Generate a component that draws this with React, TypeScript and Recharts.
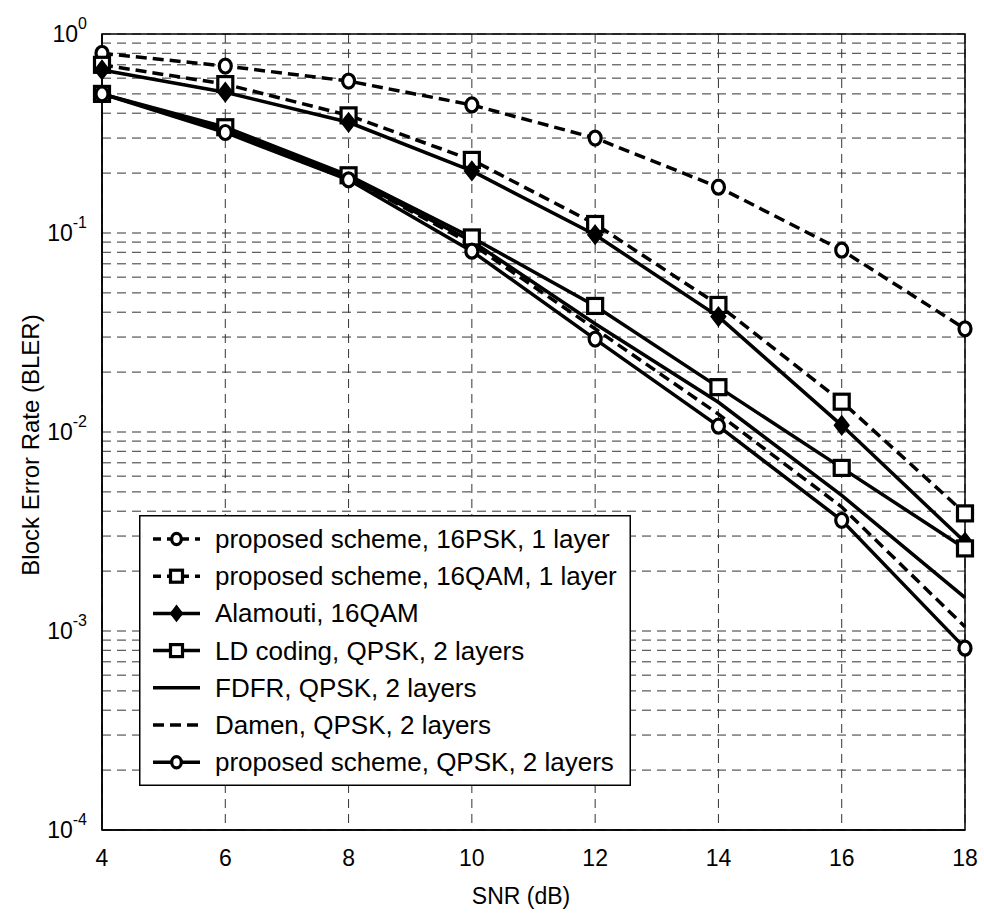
import React from 'react';
import { LineChart, Line, XAxis, YAxis, CartesianGrid, Legend, ReferenceArea } from 'recharts';

const snr = [4, 6, 8, 10, 12, 14, 16, 18];
const proposed16PSK1Layer = [0.8, 0.69, 0.58, 0.44, 0.3, 0.17, 0.082, 0.033];
const proposed16QAM1Layer = [0.7, 0.56, 0.39, 0.233, 0.111, 0.0435, 0.0142, 0.0039];
const alamouti16QAM = [0.66, 0.51, 0.36, 0.205, 0.098, 0.038, 0.0108, 0.0028];
const ldCodingQPSK = [0.5, 0.34, 0.195, 0.095, 0.043, 0.0168, 0.0066, 0.0026];
const fdfrQPSK = [0.5, 0.33, 0.19, 0.091, 0.035, 0.0141, 0.0048, 0.00147];
const damenQPSK = [0.5, 0.33, 0.19, 0.088, 0.033, 0.0123, 0.0042, 0.00105];
const proposedQPSK2Layers = [0.5, 0.32, 0.185, 0.081, 0.0293, 0.0107, 0.0036, 0.00082];

const xTicks = [4, 6, 8, 10, 12, 14, 16, 18];
const yTicks = [
  0.0001, 0.0002, 0.0003, 0.0004, 0.0005, 0.0006, 0.0007, 0.0008, 0.0009,
  0.001, 0.002, 0.003, 0.004, 0.005, 0.006, 0.007, 0.008, 0.009,
  0.01, 0.02, 0.03, 0.04, 0.05, 0.06, 0.07, 0.08, 0.09,
  0.1, 0.2, 0.3, 0.4, 0.5, 0.6, 0.7, 0.8, 0.9, 1,
];
const xLabel = 'SNR (dB)';
const yLabel = 'Block Error Rate (BLER)';

type Marker = 'circle' | 'square' | 'diamond' | 'none';
const series: { key: string; name: string; values: number[]; dashed: boolean; marker: Marker }[] = [
  { key: 'psk1', name: 'proposed scheme, 16PSK, 1 layer', values: proposed16PSK1Layer, dashed: true, marker: 'circle' },
  { key: 'qam1', name: 'proposed scheme, 16QAM, 1 layer', values: proposed16QAM1Layer, dashed: true, marker: 'square' },
  { key: 'alam', name: 'Alamouti, 16QAM', values: alamouti16QAM, dashed: false, marker: 'diamond' },
  { key: 'ld', name: 'LD coding, QPSK, 2 layers', values: ldCodingQPSK, dashed: false, marker: 'square' },
  { key: 'fdfr', name: 'FDFR, QPSK, 2 layers', values: fdfrQPSK, dashed: false, marker: 'none' },
  { key: 'damen', name: 'Damen, QPSK, 2 layers', values: damenQPSK, dashed: true, marker: 'none' },
  { key: 'prop2', name: 'proposed scheme, QPSK, 2 layers', values: proposedQPSK2Layers, dashed: false, marker: 'circle' },
];

const data = snr.map((s, i) => {
  const row: Record<string, number> = { snr: s };
  series.forEach((sr) => {
    row[sr.key] = sr.values[i];
  });
  return row;
});

const FONT = "'Liberation Sans', Arial, Helvetica, sans-serif";
const W = 984;
const H = 916;
const M = { top: 34, right: 19, left: 0, bottom: 0 };
const Y_AXIS_W = 102;
const X_AXIS_H = 86;
const DASH = '11 6';
const LW = 3.5;

function drawMarker(m: Marker, cx: number, cy: number, scale = 1, key?: string) {
  if (m === 'circle') {
    return <ellipse key={key} cx={cx} cy={cy} rx={6 * scale} ry={7 * scale} fill="#fff" stroke="#000" strokeWidth={3.2} />;
  }
  if (m === 'square') {
    const s = 7.5 * scale;
    return <rect key={key} x={cx - s} y={cy - s} width={2 * s} height={2 * s} fill="#fff" stroke="#000" strokeWidth={3.2} />;
  }
  if (m === 'diamond') {
    const a = 7 * scale;
    const b = 9 * scale;
    return (
      <polygon
        key={key}
        points={`${cx},${cy - b} ${cx + a},${cy} ${cx},${cy + b} ${cx - a},${cy}`}
        fill="#000"
        stroke="#000"
        strokeWidth={2}
      />
    );
  }
  return <g key={key} />;
}

const makeDot = (m: Marker) => (props: any) => {
  const { cx, cy, index } = props;
  if (cx == null || cy == null) return <g key={`d${index}`} />;
  return drawMarker(m, cx, cy, 1, `d${index}`);
};

const isMajor = (v: number) => {
  const l = Math.log10(v);
  return Math.abs(l - Math.round(l)) < 1e-9;
};

const YTick = (props: any) => {
  const { x, y, payload } = props;
  const v = payload.value as number;
  if (!isMajor(v)) return <g />;
  const exp = Math.round(Math.log10(v));
  return (
    <text x={x - 13} y={y + 8} textAnchor="end" fontFamily={FONT} fontSize={23} fill="#000">
      <tspan>10</tspan>
      <tspan dy={-13} fontSize={16}>{String(exp)}</tspan>
    </text>
  );
};

const XTick = (props: any) => {
  const { x, payload } = props;
  return (
    <text x={x} y={M.top + 796 + 36} textAnchor="middle" fontFamily={FONT} fontSize={23} fill="#000">
      {payload.value}
    </text>
  );
};

const LegendBox = () => {
  const w = 492;
  const h = 271;
  return (
    <svg width={w} height={h} style={{ display: 'block' }}>
      <rect x={0.75} y={0.75} width={w - 1.5} height={h - 1.5} fill="#fff" stroke="#000" strokeWidth={1.5} />
      {series.map((s, i) => {
        const y = 24 + 37.2 * i;
        return (
          <g key={s.key}>
            <line
              x1={14}
              x2={61}
              y1={y}
              y2={y}
              stroke="#000"
              strokeWidth={LW}
              strokeDasharray={s.dashed ? (s.marker === 'none' ? '11 6' : '8 6') : undefined}
            />
            {drawMarker(s.marker, 37.5, y, 0.8)}
            <text x={76} y={y + 9} fontFamily={FONT} fontSize={26} fill="#000">
              {s.name}
            </text>
          </g>
        );
      })}
    </svg>
  );
};

export default function App() {
  return (
    <div style={{ position: 'absolute', left: 0, top: 0, width: W, height: H, background: '#fff' }}>
      <LineChart width={W} height={H} data={data} margin={M}>
        <CartesianGrid stroke="#333" strokeWidth={1} strokeDasharray="9 6" />
        <XAxis
          dataKey="snr"
          type="number"
          domain={[4, 18]}
          ticks={xTicks}
          height={X_AXIS_H}
          tick={<XTick />}
          tickLine={false}
          tickSize={0}
          axisLine={{ stroke: '#000', strokeWidth: 1.5 }}
          label={{
            content: () => (
              <text x={521} y={904} textAnchor="middle" fontFamily={FONT} fontSize={23} fill="#000">
                {xLabel}
              </text>
            ),
          }}
        />
        <YAxis
          type="number"
          scale="log"
          domain={[0.0001, 1]}
          ticks={yTicks}
          interval={0}
          width={Y_AXIS_W}
          allowDataOverflow
          tick={<YTick />}
          tickLine={false}
          tickSize={0}
          axisLine={{ stroke: '#000', strokeWidth: 1.5 }}
          label={{
            content: () => (
              <text
                x={30}
                y={445}
                textAnchor="middle"
                dominantBaseline="central"
                fontFamily={FONT}
                fontSize={24}
                fill="#000"
                transform="rotate(-90 30 445)"
              >
                {yLabel}
              </text>
            ),
          }}
        />
        <ReferenceArea x1={4} x2={18} y1={0.0001} y2={1} fill="none" stroke="#000" strokeWidth={1.5} />
        {series.map((s) => (
          <Line
            key={s.key}
            dataKey={s.key}
            name={s.name}
            stroke="#000"
            strokeWidth={LW}
            strokeDasharray={s.dashed ? DASH : undefined}
            dot={s.marker === 'none' ? false : makeDot(s.marker)}
            activeDot={false}
            isAnimationActive={false}
          />
        ))}
        <Legend
          layout="vertical"
          align="center"
          verticalAlign="middle"
          content={() => <LegendBox />}
          wrapperStyle={{ left: 139, top: 515, width: 492, height: 271 }}
        />
      </LineChart>
    </div>
  );
}
